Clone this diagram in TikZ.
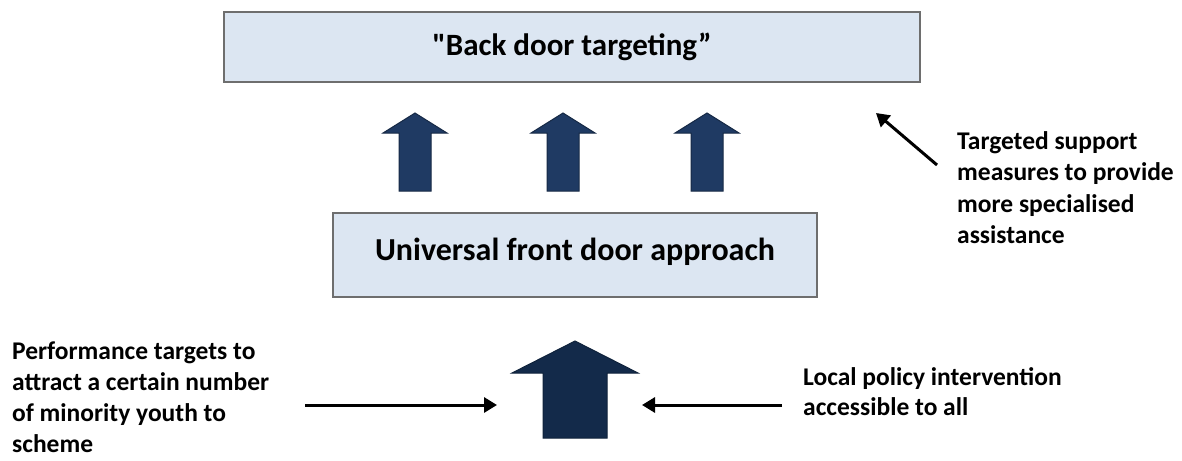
\documentclass[tikz,border=0pt]{standalone}
\usepackage{fontspec}
\setmainfont{Carlito}[Ligatures=TeXOff]
\usetikzlibrary{arrows.meta}
\definecolor{boxfill}{HTML}{DCE6F2}
\definecolor{boxline}{HTML}{6E6E6E}
\definecolor{navy}{HTML}{1F3A63}
\definecolor{deepnavy}{HTML}{132A4A}
\tikzset{
  panel/.style={draw=boxline, line width=2pt, fill=boxfill, inner sep=0pt},
  blockarrow/.style={fill=navy, draw=navy!70!black, line width=1pt},
  bigarrow/.style={fill=deepnavy, draw=deepnavy!80!black, line width=1pt},
  thin/.style={line width=3pt, -{Triangle[length=13pt,width=15pt]}},
  label/.style={align=left, inner sep=0pt, font=\bfseries\fontsize{25.5}{31.5}\selectfont}
}
\begin{document}
\begin{tikzpicture}[x=1pt,y=-1pt]
\useasboundingbox[fill=white] (0,0) rectangle (1182,460);
% top box
\node[panel, minimum width=696pt, minimum height=69pt, font=\bfseries\fontsize{31}{36}\selectfont] (back) at (572,47) {\raisebox{4pt}{"Back door targeting”}};
% middle box
\node[panel, minimum width=484pt, minimum height=84pt, font=\bfseries\fontsize{32}{37}\selectfont] (front) at (575,255) {\raisebox{12pt}{Universal front door approach}};
% three small arrows
\foreach \cx/\nm in {415/a1,563/a2,707/a3}{
  \draw[blockarrow] (\cx,113) -- (\cx+32,133) -- (\cx+16,133) -- (\cx+16,191) -- (\cx-16,191) -- (\cx-16,133) -- (\cx-32,133) -- cycle;
  \coordinate (\nm) at (\cx,150);
}
% big arrow
\draw[bigarrow] (575,341) -- (638,373) -- (607,373) -- (607,438) -- (543,438) -- (543,373) -- (512,373) -- cycle;
\coordinate (bigL) at (497,405);
\coordinate (bigR) at (642,405);
% labels
\node[label, anchor=north west, font=\bfseries\fontsize{25.5}{31}\selectfont] (perf) at (12,342) {Performance targets to\\attract a certain number\\of minority youth to\\scheme};
\node[label, anchor=north west, font=\bfseries\fontsize{25.5}{30}\selectfont] (local) at (803,367) {Local policy intervention\\accessible to all};
\node[label, anchor=north west] (targ) at (957,131) {Targeted support\\measures to provide\\more specialised\\assistance};
\coordinate (perfend) at (305,405);
\coordinate (localend) at (782,405);
\coordinate (targend) at (937,165);
\coordinate (targtip) at (876,113);
\draw[thin] (perfend) -- (bigL);
\draw[thin] (localend) -- (bigR);
\draw[thin] (targend) -- (targtip);
\end{tikzpicture}
\end{document}
